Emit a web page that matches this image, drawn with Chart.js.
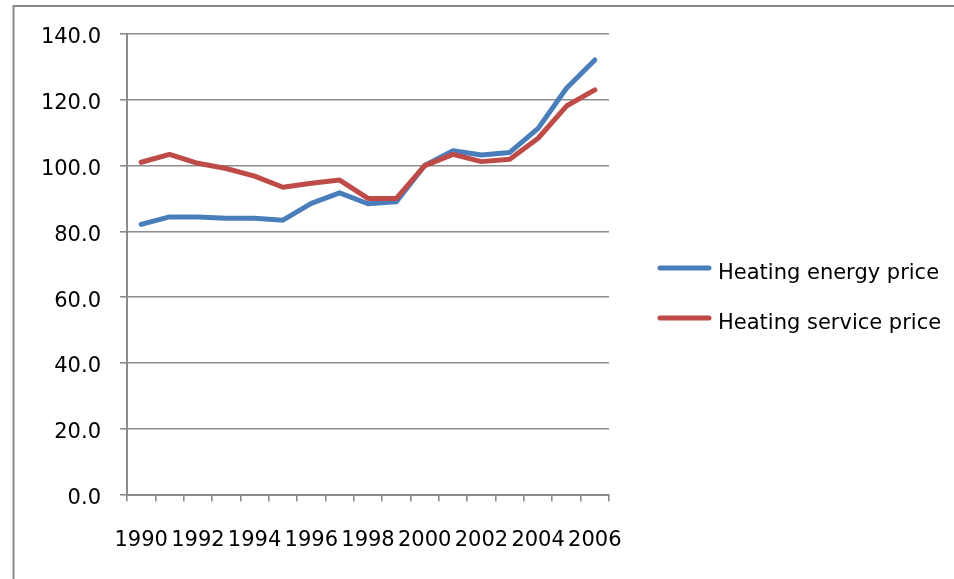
<!DOCTYPE html>
<html>
<head>
<meta charset="utf-8">
<title>Heating prices 1990–2006</title>
<script src="https://cdn.jsdelivr.net/npm/chart.js@4"></script>
<style>
  html, body { margin: 0; padding: 0; background: #ffffff; }
  #wrap { position: relative; width: 954px; height: 579px; }
</style>
</head>
<body>
<div id="wrap"><canvas id="chart" width="954" height="579"></canvas></div>
<script>
// Years on the category axis
const years = ['1990','1991','1992','1993','1994','1995','1996','1997','1998',
               '1999','2000','2001','2002','2003','2004','2005','2006'];

// Price indices (2000 = 100)
const heatingEnergyPrice  = [82.1, 84.4, 84.4, 84.0, 84.0, 83.4, 88.5, 91.7, 88.4,
                             89.0, 100.0, 104.5, 103.2, 104.0, 111.3, 123.5, 132.1];
const heatingServicePrice = [101.0, 103.4, 100.7, 99.1, 96.8, 93.4, 94.6, 95.6, 90.0,
                             90.0, 100.0, 103.4, 101.2, 101.9, 108.3, 118.1, 123.0];

const seriesNames = ['Heating energy price', 'Heating service price'];
const seriesColors = ['#4a7ebb', '#be4b48'];

const yMin = 0, yMax = 140, yStep = 20;

const FONT = 'DejaVu Sans';
const GRID = '#8c8c8c';

// Outer frame of the chart object (left and top edges)
const framePlugin = {
  id: 'frame',
  beforeDraw(chart) {
    const ctx = chart.ctx;
    ctx.save();
    ctx.fillStyle = '#ffffff';
    ctx.fillRect(0, 0, chart.width, chart.height);
    ctx.strokeStyle = '#888888';
    ctx.lineWidth = 2;
    ctx.beginPath();
    ctx.moveTo(13.5, chart.height);
    ctx.lineTo(13.5, 6);
    ctx.lineTo(chart.width, 6);
    ctx.stroke();
    ctx.restore();
  }
};

// Legend on the right: a short line sample followed by the series name
const sideLegend = {
  id: 'sideLegend',
  afterDraw(chart) {
    const ctx = chart.ctx;
    ctx.save();
    chart.data.datasets.forEach((ds, i) => {
      const y = 268 + i * 50;
      ctx.strokeStyle = ds.borderColor;
      ctx.lineWidth = 5;
      ctx.lineCap = 'round';
      ctx.beginPath();
      ctx.moveTo(660, y);
      ctx.lineTo(709, y);
      ctx.stroke();
      ctx.fillStyle = '#000000';
      ctx.font = '21px "' + FONT + '"';
      ctx.textAlign = 'left';
      ctx.textBaseline = 'alphabetic';
      ctx.fillText(ds.label, 718, y + 11);
    });
    ctx.restore();
  }
};

new Chart(document.getElementById('chart'), {
  type: 'line',
  data: {
    labels: years,
    datasets: [
      {
        label: seriesNames[0],
        data: heatingEnergyPrice,
        borderColor: seriesColors[0],
        backgroundColor: seriesColors[0],
        borderWidth: 5,
        borderCapStyle: 'round',
        borderJoinStyle: 'round',
        pointRadius: 0,
        tension: 0,
        order: 1
      },
      {
        label: seriesNames[1],
        data: heatingServicePrice,
        borderColor: seriesColors[1],
        backgroundColor: seriesColors[1],
        borderWidth: 5,
        borderCapStyle: 'round',
        borderJoinStyle: 'round',
        pointRadius: 0,
        tension: 0,
        order: 0
      }
    ]
  },
  options: {
    responsive: false,
    animation: false,
    layout: { padding: { top: 34, right: 345, bottom: 0, left: 0 } },
    plugins: {
      legend: { display: false },
      tooltip: { enabled: false }
    },
    scales: {
      x: {
        offset: true,
        afterFit(scale) { scale.height = 84.5; },
        grid: {
          offset: true,
          drawOnChartArea: false,
          drawTicks: true,
          tickLength: 7,
          color: GRID,
          lineWidth: 1.6
        },
        border: { display: true, color: GRID, width: 2 },
        ticks: {
          autoSkip: false,
          maxRotation: 0,
          minRotation: 0,
          padding: 26,
          color: '#000000',
          font: { family: FONT, size: 21 },
          callback(value, index) { return index % 2 === 0 ? years[index] : ''; }
        }
      },
      y: {
        min: yMin,
        max: yMax,
        afterFit(scale) { scale.width = 127; },
        grid: {
          drawTicks: true,
          tickLength: 7,
          color: GRID,
          lineWidth: 1.6
        },
        border: { display: true, color: GRID, width: 2 },
        ticks: {
          stepSize: yStep,
          padding: 19,
          labelOffset: 4,
          color: '#000000',
          font: { family: FONT, size: 21 },
          callback(value) { return value.toFixed(1); }
        }
      }
    }
  },
  plugins: [framePlugin, sideLegend]
});
</script>
</body>
</html>
